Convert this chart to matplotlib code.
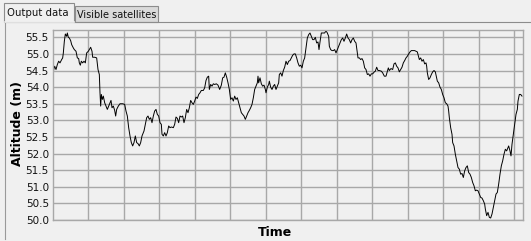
import matplotlib.pyplot as plt
from matplotlib.patches import Rectangle
from matplotlib.lines import Line2D

# altitude log (time in s, altitude in m)
time_s = [0, 1, 5, 9, 13, 17, 21, 26, 29, 31, 34, 37, 41, 43, 46, 49, 53, 56, 61, 64,
          69, 73, 77, 79, 82, 85, 89, 93, 97, 101, 106, 109, 113, 117, 119, 125, 131, 135, 139, 141,
          143, 145, 148, 151, 155, 159, 163, 167, 171, 174, 177, 181, 185, 188, 191, 196, 201, 209, 215, 219,
          223, 227, 231, 235, 239, 243, 247, 251, 255, 259, 263, 267, 273, 277, 281, 285, 289, 293, 297, 301,
          305, 309, 313, 317, 321, 325, 327, 331, 335, 339, 343, 347, 351, 355, 361, 365, 369, 373, 377, 381,
          385, 389, 393, 397, 401, 405, 409, 413, 417, 421, 425, 429, 433, 437, 441, 445, 451, 455, 459, 463,
          467, 469, 473, 477, 481, 485, 490, 495, 500, 505, 509, 513, 517, 521, 525, 529, 533, 537, 541, 545,
          549, 553, 557, 561, 565, 569, 573, 577, 581, 585, 589, 593, 597, 601, 605, 609, 613, 615, 617, 621,
          625, 629, 633, 637, 639, 643, 647, 649, 653, 657, 661, 665, 669, 673, 677, 679, 683, 687, 691, 695,
          699, 703, 707, 711, 715, 719, 723, 727, 731, 735, 739, 743, 747, 751, 755, 759, 763, 767, 771, 775,
          779, 783, 787, 791, 795, 798, 801, 805, 811, 815, 819, 823, 827, 829, 833, 837, 841, 845, 849, 853,
          857, 861, 865, 869, 873, 877, 881, 885, 889, 893, 897, 901, 905, 909, 913, 915, 919, 923, 927, 931,
          935, 939, 943, 947, 951, 955, 959, 964, 967, 971, 975, 979, 985, 989, 994, 999, 1003, 1006, 1009, 1014,
          1019, 1023, 1027, 1031, 1035, 1039, 1043, 1047, 1051, 1055, 1059, 1063, 1067, 1071, 1075, 1079, 1085, 1089, 1093, 1095,
          1099, 1103, 1107, 1111, 1115, 1119, 1121, 1123, 1127, 1131, 1135, 1139, 1143, 1147, 1151, 1153, 1157, 1161, 1165, 1169,
          1173, 1177, 1181, 1185, 1187, 1189, 1193, 1197, 1199, 1203, 1207, 1211, 1215, 1219, 1223, 1227, 1231, 1235, 1239, 1243,
          1247, 1251, 1255, 1259, 1263, 1267, 1271, 1275, 1279, 1283, 1287, 1291, 1295, 1297, 1301, 1303, 1305, 1309, 1313, 1317,
          1321, 1325, 1329, 1333, 1337, 1341, 1345, 1349, 1353, 1357, 1361, 1365, 1367, 1371, 1374, 1377, 1381, 1385, 1389, 1393,
          1395, 1399, 1403, 1407]
altitude = [54.03, 54.48, 54.63, 54.53, 54.68, 54.78, 54.73, 54.83, 54.88, 55.03, 55.38, 55.60, 55.53, 55.63, 55.50, 55.48, 55.40, 55.28, 55.18, 55.13,
            55.08, 54.88, 54.86, 54.73, 54.66, 54.78, 54.73, 54.78, 54.73, 55.03, 55.08, 55.13, 55.20, 55.08, 54.90, 54.90, 54.88, 54.53, 54.38, 53.83,
            53.43, 53.78, 53.63, 53.73, 53.53, 53.43, 53.33, 53.43, 53.53, 53.60, 53.38, 53.43, 53.30, 53.13, 53.33, 53.43, 53.50, 53.50, 53.48, 53.28,
            53.13, 52.78, 52.53, 52.33, 52.23, 52.33, 52.53, 52.33, 52.30, 52.23, 52.33, 52.53, 52.68, 52.88, 53.08, 53.13, 53.03, 53.08, 52.93, 53.13,
            53.28, 53.33, 53.18, 53.13, 52.93, 52.88, 52.58, 52.53, 52.63, 52.53, 52.63, 52.83, 52.78, 52.80, 52.78, 52.88, 53.10, 53.06, 52.93, 53.13,
            53.10, 53.13, 52.93, 53.08, 53.33, 53.23, 53.38, 53.60, 53.53, 53.48, 53.58, 53.70, 53.66, 53.78, 53.83, 53.90, 53.90, 53.98, 54.20, 54.30,
            54.33, 53.93, 54.08, 54.03, 54.10, 54.08, 54.10, 54.06, 53.93, 54.06, 54.28, 54.30, 54.43, 54.30, 54.13, 53.93, 53.63, 53.68, 53.58, 53.73,
            53.63, 53.68, 53.53, 53.38, 53.23, 53.18, 53.13, 53.03, 53.13, 53.23, 53.30, 53.38, 53.48, 53.68, 53.93, 54.03, 54.13, 54.33, 54.13, 54.28,
            54.10, 54.03, 54.06, 53.93, 53.83, 54.00, 54.08, 54.18, 54.00, 53.93, 54.03, 54.08, 53.93, 54.03, 54.13, 54.38, 54.43, 54.33, 54.50, 54.60,
            54.78, 54.68, 54.78, 54.80, 54.88, 54.96, 55.00, 55.00, 54.88, 54.73, 54.63, 54.66, 54.58, 54.78, 54.88, 55.18, 55.48, 55.58, 55.63, 55.53,
            55.43, 55.43, 55.50, 55.33, 55.36, 55.13, 55.36, 55.63, 55.63, 55.63, 55.70, 55.63, 55.53, 55.23, 55.13, 55.10, 55.10, 55.13, 55.03, 55.13,
            55.23, 55.33, 55.43, 55.48, 55.38, 55.48, 55.60, 55.48, 55.43, 55.33, 55.43, 55.48, 55.38, 55.33, 55.03, 54.88, 54.88, 54.83, 54.86, 54.78,
            54.58, 54.53, 54.38, 54.40, 54.33, 54.40, 54.40, 54.46, 54.48, 54.60, 54.50, 54.50, 54.48, 54.43, 54.33, 54.33, 54.48, 54.58, 54.50, 54.56,
            54.53, 54.70, 54.73, 54.63, 54.58, 54.46, 54.53, 54.60, 54.73, 54.80, 54.88, 54.93, 55.00, 55.06, 55.10, 55.10, 55.10, 55.08, 55.06, 54.98,
            54.83, 54.88, 54.78, 54.83, 54.70, 54.73, 54.63, 54.43, 54.23, 54.28, 54.38, 54.46, 54.50, 54.46, 54.28, 54.18, 54.13, 54.00, 53.93, 53.78,
            53.68, 53.53, 53.50, 53.43, 53.28, 53.08, 52.78, 52.58, 52.33, 52.23, 51.98, 51.78, 51.58, 51.53, 51.38, 51.40, 51.28, 51.48, 51.58, 51.63,
            51.43, 51.38, 51.28, 51.13, 51.03, 50.88, 50.90, 50.88, 50.78, 50.68, 50.66, 50.58, 50.48, 50.33, 50.13, 50.18, 50.23, 50.08, 50.06, 50.18,
            50.38, 50.58, 50.78, 50.83, 51.08, 51.38, 51.63, 51.78, 51.98, 52.13, 52.08, 52.18, 52.23, 52.08, 51.93, 52.28, 52.58, 52.88, 53.18, 53.33,
            53.58, 53.78, 53.78, 53.73]

y_ticks = [50.0, 50.5, 51.0, 51.5, 52.0, 52.5, 53.0, 53.5, 54.0, 54.5, 55.0, 55.5]
grid_step = 106.4
t_end = 1410

W, H = 531, 241
BG = "#f0f0f0"
GRID = "#a8a8a8"


def fx(px):
    return px / W


def fy(py):
    return 1 - py / H


fig = plt.figure(figsize=(W / 100, H / 100), dpi=100, facecolor=BG)

# tabs and panel frame
fig.add_artist(Rectangle((fx(75), fy(22)), fx(158) - fx(75), fy(6) - fy(22),
                         transform=fig.transFigure, facecolor="#dadada", edgecolor="#8c8c8c", lw=0.8))
fig.add_artist(Rectangle((fx(4), fy(22)), fx(74) - fx(4), fy(3) - fy(22),
                         transform=fig.transFigure, facecolor=BG, edgecolor="#8c8c8c", lw=0.8))
fig.add_artist(Line2D([fx(74), fx(531)], [fy(21.5), fy(21.5)], transform=fig.transFigure, color="#8c8c8c", lw=0.8))
fig.add_artist(Line2D([fx(4.5), fx(4.5)], [fy(21.5), fy(239)], transform=fig.transFigure, color="#9a9a9a", lw=0.8))
fig.add_artist(Line2D([fx(5), fx(73.5)], [fy(21.5), fy(21.5)], transform=fig.transFigure, color=BG, lw=1.2))
fig.text(fx(38), fy(12.5), "Output data", fontsize=7.3, ha="center", va="center", color="#111111")
fig.text(fx(117), fy(14.5), "Visible satellites", fontsize=7, ha="center", va="center", color="#111111")

ax = fig.add_axes([fx(53), fy(220), fx(523) - fx(53), fy(30) - fy(220)])
ax.set_facecolor(BG)
ax.plot(time_s, altitude, color="black", lw=0.7)

ax.set_xlim(0, t_end)
ax.set_ylim(50.0, 55.72)
ax.set_yticks(y_ticks)
ax.set_yticklabels([f"{v:.1f}" for v in y_ticks])
ax.set_xticks([grid_step * k for k in range(1, 14)])
ax.set_xticklabels([])
ax.tick_params(length=0, labelsize=7.5, pad=3, colors="#111111")
ax.grid(True, color=GRID, lw=1.0)
for s in ax.spines.values():
    s.set_color(GRID)
    s.set_linewidth(1.0)

fig.text(fx(17.5), fy(124), "Altitude (m)", rotation=90, fontsize=9, fontweight="bold",
         ha="center", va="center")
fig.text(fx(275), fy(232), "Time", fontsize=9, fontweight="bold", ha="center", va="center")

plt.savefig("out.png", dpi=100, facecolor=BG)
